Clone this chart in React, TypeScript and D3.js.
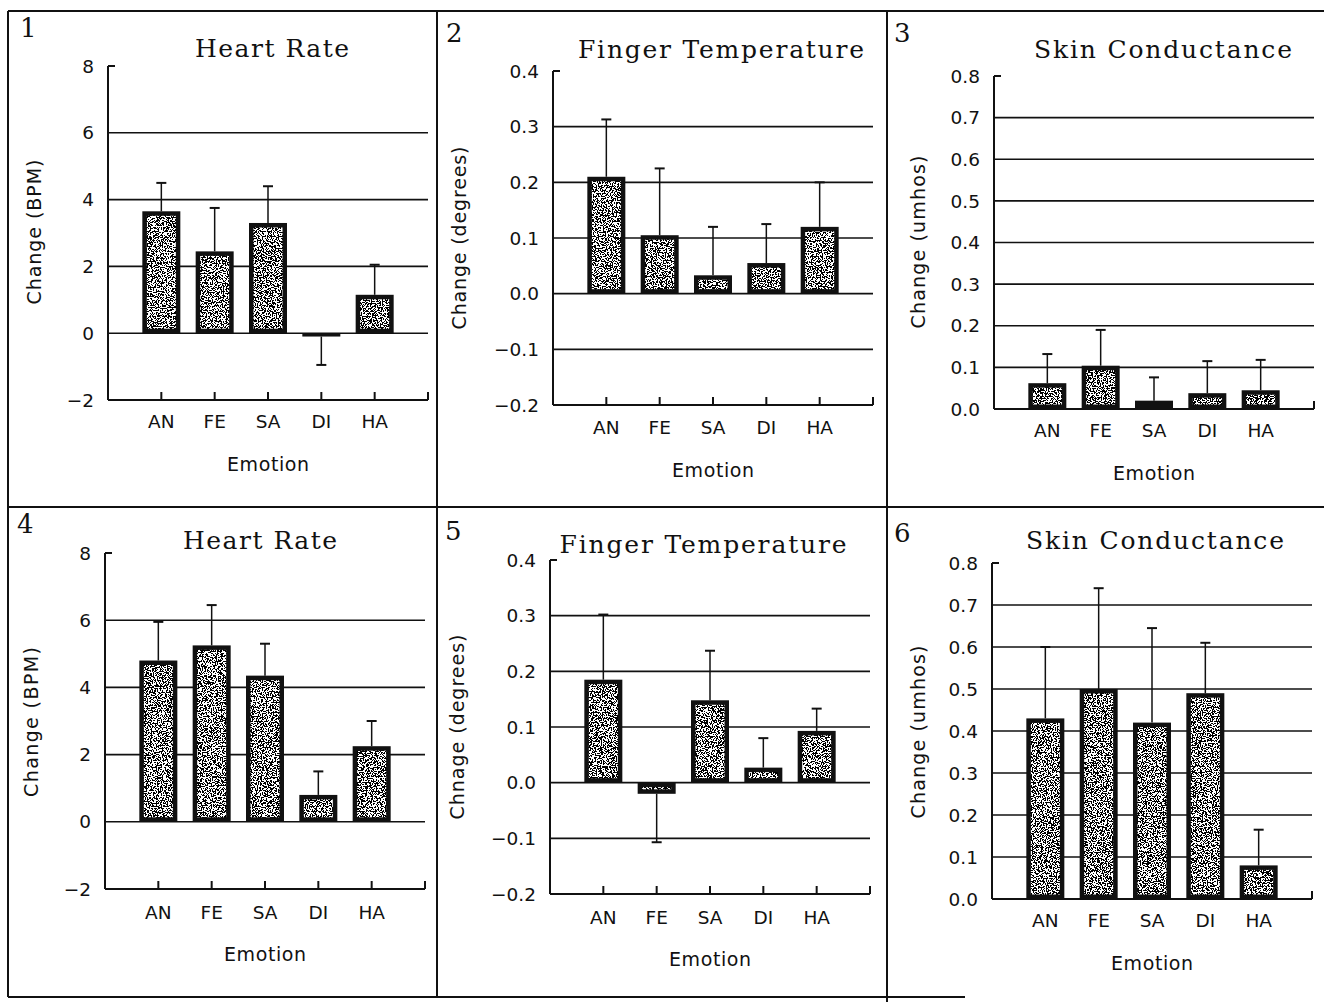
import React, {useRef, useEffect} from 'react';
import * as d3 from 'd3';

// categories shared by every panel
const emotions = ['AN', 'FE', 'SA', 'DI', 'HA'];

// panel 1 / 4: heart rate change (BPM), mean and error
const hrMeansTop = [3.65, 2.45, 3.3, -0.1, 1.15];
const hrErrTop = [0.85, 1.3, 1.1, 0.85, 0.9];
const hrMeansBottom = [4.8, 5.25, 4.35, 0.8, 2.25];
const hrErrBottom = [1.15, 1.2, 0.95, 0.7, 0.75];

// panel 2 / 5: finger temperature change (degrees)
const ftMeansTop = [0.21, 0.105, 0.033, 0.055, 0.12];
const ftErrTop = [0.103, 0.12, 0.087, 0.07, 0.08];
const ftMeansBottom = [0.185, -0.02, 0.148, 0.027, 0.093];
const ftErrBottom = [0.117, 0.087, 0.089, 0.053, 0.04];

// panel 3 / 6: skin conductance change (umhos)
const scMeansTop = [0.062, 0.104, 0.02, 0.038, 0.045];
const scErrTop = [0.07, 0.086, 0.056, 0.077, 0.073];
const scMeansBottom = [0.43, 0.5, 0.42, 0.49, 0.08];
const scErrBottom = [0.17, 0.24, 0.225, 0.12, 0.085];

// tick values
const hrTicks = [-2, 0, 2, 4, 6, 8];
const ftTicks = [-0.2, -0.1, 0, 0.1, 0.2, 0.3, 0.4];
const scTicks = [0, 0.1, 0.2, 0.3, 0.4, 0.5, 0.6, 0.7, 0.8];

const fmtInt = d3.format('d');
const fmtDec = d3.format('.1f');

// layout of each panel (pixel positions, not data)
const panels = [
    {num: '1', numX: 20, numY: 37, title: 'Heart Rate', titleX: 272, titleY: 57, titleW: 154,
     ylabel: 'Change (BPM)', ylabX: 34, ylabY: 232, ylabW: 145,
     means: hrMeansTop, errs: hrErrTop, ticks: hrTicks, fmt: fmtInt,
     x0: 108, yTop: 66, yBot: 400, catY: 428, emoY: 471},
    {num: '2', numX: 446, numY: 42, title: 'Finger Temperature', titleX: 721, titleY: 58, titleW: 286,
     ylabel: 'Change (degrees)', ylabX: 459, ylabY: 238, ylabW: 183,
     means: ftMeansTop, errs: ftErrTop, ticks: ftTicks, fmt: fmtDec,
     x0: 553, yTop: 71, yBot: 405, catY: 434, emoY: 477},
    {num: '3', numX: 894, numY: 42, title: 'Skin Conductance', titleX: 1163, titleY: 58, titleW: 258,
     ylabel: 'Change (umhos)', ylabX: 918, ylabY: 242, ylabW: 173,
     means: scMeansTop, errs: scErrTop, ticks: scTicks, fmt: fmtDec,
     x0: 994, yTop: 76, yBot: 409, catY: 437, emoY: 480},
    {num: '4', numX: 17, numY: 533, title: 'Heart Rate', titleX: 260, titleY: 549, titleW: 154,
     ylabel: 'Change (BPM)', ylabX: 31, ylabY: 722, ylabW: 150,
     means: hrMeansBottom, errs: hrErrBottom, ticks: hrTicks, fmt: fmtInt,
     x0: 105, yTop: 553, yBot: 889, catY: 919, emoY: 961},
    {num: '5', numX: 445, numY: 540, title: 'Finger Temperature', titleX: 703, titleY: 553, titleW: 287,
     ylabel: 'Chnage (degrees)', ylabX: 457, ylabY: 727, ylabW: 185,
     means: ftMeansBottom, errs: ftErrBottom, ticks: ftTicks, fmt: fmtDec,
     x0: 550, yTop: 560, yBot: 894, catY: 924, emoY: 966},
    {num: '6', numX: 894, numY: 542, title: 'Skin Conductance', titleX: 1155, titleY: 549, titleW: 258,
     ylabel: 'Change (umhos)', ylabX: 918, ylabY: 732, ylabW: 173,
     means: scMeansBottom, errs: scErrBottom, ticks: scTicks, fmt: fmtDec,
     x0: 992, yTop: 563, yBot: 899, catY: 927, emoY: 970}
];

const W = 1324;
const H = 1002;
const serif = '"DejaVu Serif", "Liberation Serif", serif';
const sans = '"DejaVu Sans", Verdana, sans-serif';

export default function App() {
    const svgRef = useRef(null);

    useEffect(() => {
        const svg = d3.select(svgRef.current);
        svg.selectAll('*').remove();

        // speckled fill for bars
        const filt = svg.append('defs').append('filter')
            .attr('id', 'speckle')
            .attr('x', 0).attr('y', 0).attr('width', 1).attr('height', 1);
        filt.append('feTurbulence')
            .attr('type', 'fractalNoise')
            .attr('baseFrequency', 0.8)
            .attr('numOctaves', 2)
            .attr('seed', 5)
            .attr('result', 'n');
        filt.append('feColorMatrix')
            .attr('in', 'n')
            .attr('type', 'matrix')
            .attr('values', '1 0 0 0 0  1 0 0 0 0  1 0 0 0 0  0 0 0 0 1')
            .attr('result', 'g');
        const ct = filt.append('feComponentTransfer').attr('in', 'g').attr('result', 't');
        ['feFuncR', 'feFuncG', 'feFuncB'].forEach(f =>
            ct.append(f).attr('type', 'discrete').attr('tableValues', '0 0 1 1'));
        filt.append('feComposite').attr('in', 't').attr('in2', 'SourceGraphic').attr('operator', 'in');

        svg.append('rect').attr('width', W).attr('height', H).attr('fill', '#fff');

        // panel frame
        const frame = [
            [8, 11, W, 11], [8, 11, 8, 997], [437, 11, 437, 997], [887, 11, 887, 1002],
            [8, 507, W, 507], [8, 997, 965, 997]
        ];
        svg.append('g').selectAll('line').data(frame).join('line')
            .attr('x1', d => d[0]).attr('y1', d => d[1])
            .attr('x2', d => d[2]).attr('y2', d => d[3])
            .attr('stroke', '#111').attr('stroke-width', 2);

        panels.forEach(p => {
            const g = svg.append('g');
            const ext = d3.extent(p.ticks);
            const y = d3.scaleLinear().domain(ext).range([p.yBot, p.yTop]);
            const x = d3.scaleLinear().domain([0, emotions.length + 1]).range([p.x0, p.x0 + 320]);
            const xEnd = x(emotions.length + 1);
            const bw = 38;
            const inset = 4.5;

            // gridlines
            g.selectAll('line.grid').data(p.ticks.slice(1, -1)).join('line')
                .attr('class', 'grid')
                .attr('x1', p.x0).attr('x2', xEnd)
                .attr('y1', d => y(d)).attr('y2', d => y(d))
                .attr('stroke', '#111').attr('stroke-width', 1.6);

            // axes
            g.append('line').attr('x1', p.x0).attr('x2', p.x0)
                .attr('y1', y(ext[1])).attr('y2', y(ext[0]))
                .attr('stroke', '#111').attr('stroke-width', 2);
            g.append('line').attr('x1', p.x0).attr('x2', p.x0 + 7)
                .attr('y1', y(ext[1])).attr('y2', y(ext[1]))
                .attr('stroke', '#111').attr('stroke-width', 2);
            g.append('line').attr('x1', p.x0).attr('x2', xEnd)
                .attr('y1', y(ext[0])).attr('y2', y(ext[0]))
                .attr('stroke', '#111').attr('stroke-width', 2);
            const xt = emotions.map((e, i) => i + 1).concat([emotions.length + 1]);
            g.selectAll('line.xt').data(xt).join('line')
                .attr('class', 'xt')
                .attr('x1', d => x(d)).attr('x2', d => x(d))
                .attr('y1', y(ext[0])).attr('y2', y(ext[0]) - 8)
                .attr('stroke', '#111').attr('stroke-width', 2);

            // y tick labels
            g.selectAll('text.yt').data(p.ticks).join('text')
                .attr('class', 'yt')
                .attr('x', p.x0 - 14).attr('y', d => y(d))
                .attr('dy', '0.36em')
                .attr('text-anchor', 'end')
                .style('font-family', sans).style('font-size', '18.5px')
                .attr('fill', '#111')
                .text(d => p.fmt(d));

            // x category labels
            g.selectAll('text.xc').data(emotions).join('text')
                .attr('class', 'xc')
                .attr('x', (d, i) => x(i + 1)).attr('y', p.catY)
                .attr('text-anchor', 'middle')
                .style('font-family', sans).style('font-size', '18.5px')
                .attr('fill', '#111')
                .text(d => d);

            // bars
            const rows = emotions.map((e, i) => ({e, i, m: p.means[i], s: p.errs[i]}));
            g.selectAll('rect.bar').data(rows).join('rect')
                .attr('class', 'bar')
                .attr('x', d => x(d.i + 1) - bw / 2)
                .attr('width', bw)
                .attr('y', d => Math.min(y(d.m), y(0)))
                .attr('height', d => Math.max(3, Math.abs(y(d.m) - y(0))))
                .attr('fill', '#111');
            g.selectAll('rect.fill').data(rows.filter(d => Math.abs(y(d.m) - y(0)) > 2 * inset + 2)).join('rect')
                .attr('class', 'fill')
                .attr('x', d => x(d.i + 1) - bw / 2 + inset)
                .attr('width', bw - 2 * inset)
                .attr('y', d => Math.min(y(d.m), y(0)) + inset)
                .attr('height', d => Math.abs(y(d.m) - y(0)) - 2 * inset)
                .attr('fill', '#fff')
                .attr('filter', 'url(#speckle)');

            // error bars
            const endOf = d => d.m + (d.m < 0 ? -d.s : d.s);
            g.selectAll('line.err').data(rows).join('line')
                .attr('class', 'err')
                .attr('x1', d => x(d.i + 1)).attr('x2', d => x(d.i + 1))
                .attr('y1', d => y(d.m)).attr('y2', d => y(endOf(d)))
                .attr('stroke', '#111').attr('stroke-width', 1.5);
            g.selectAll('line.cap').data(rows).join('line')
                .attr('class', 'cap')
                .attr('x1', d => x(d.i + 1) - 5).attr('x2', d => x(d.i + 1) + 5)
                .attr('y1', d => y(endOf(d))).attr('y2', d => y(endOf(d)))
                .attr('stroke', '#111').attr('stroke-width', 2);

            // labels
            g.append('text')
                .attr('x', p.numX).attr('y', p.numY)
                .style('font-family', serif).style('font-size', '26px')
                .attr('fill', '#111')
                .text(p.num);
            g.append('text')
                .attr('x', p.titleX).attr('y', p.titleY)
                .attr('text-anchor', 'middle')
                .attr('textLength', p.titleW).attr('lengthAdjust', 'spacing')
                .style('font-family', serif).style('font-size', '25px')
                .attr('fill', '#111')
                .text(p.title);
            g.append('text')
                .attr('transform', `translate(${p.ylabX},${p.ylabY}) rotate(-90)`)
                .attr('dy', '0.36em')
                .attr('text-anchor', 'middle')
                .attr('textLength', p.ylabW).attr('lengthAdjust', 'spacing')
                .style('font-family', sans).style('font-size', '19px')
                .attr('fill', '#111')
                .text(p.ylabel);
            g.append('text')
                .attr('x', x(3)).attr('y', p.emoY)
                .attr('text-anchor', 'middle')
                .attr('textLength', 82).attr('lengthAdjust', 'spacing')
                .style('font-family', sans).style('font-size', '19px')
                .attr('fill', '#111')
                .text('Emotion');
        });
    }, []);

    return (
        <svg ref={svgRef} width={W} height={H}
             style={{position: 'absolute', left: 0, top: 0, display: 'block'}}></svg>
    );
}
